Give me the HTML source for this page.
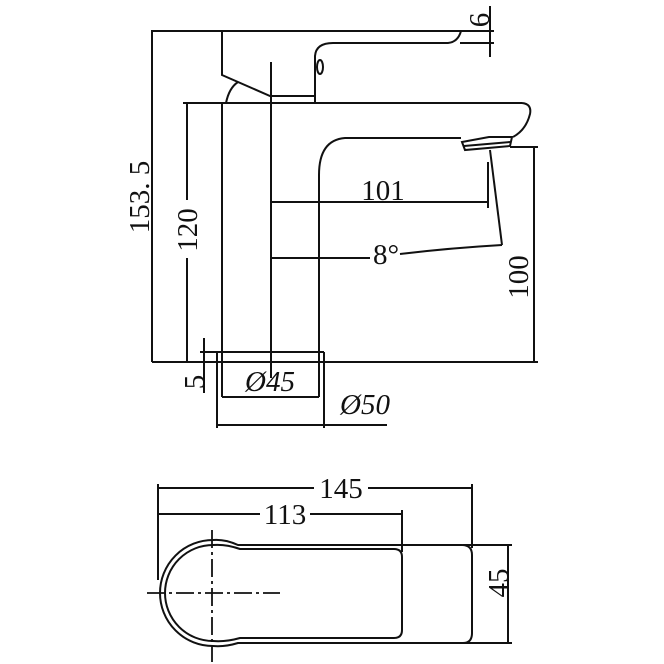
<!DOCTYPE html>
<html><head><style>
html,body{margin:0;padding:0;background:#fff;}
svg{display:block}
text{font-family:"Liberation Serif",serif;fill:#111;}
</style></head><body>
<svg width="664" height="664" viewBox="0 0 664 664" xmlns="http://www.w3.org/2000/svg">
<g fill="none" stroke="#111" stroke-width="2">
<line x1="151" y1="31" x2="494" y2="31"/>
<line x1="152" y1="31" x2="152" y2="362"/>
<path d="M222 31 L222 75 L270 96 L315 96 L315 56 Q316 43 333 43 L448 43 Q458 42 461 31"/>
<ellipse cx="320" cy="67" rx="3" ry="7"/>
<line x1="315" y1="96" x2="315" y2="103"/>
<path d="M226 103 Q229 88 238 82"/>
<line x1="490" y1="6" x2="490" y2="57"/>
<line x1="460" y1="43" x2="494" y2="43"/>
<line x1="183" y1="103" x2="522" y2="103"/>
<path d="M522 103 Q532 104 530 114 Q526 130 513 137"/>
<path d="M461 138 L345 138 Q319 140 319 175 L319 362"/>
<line x1="222" y1="103" x2="222" y2="362"/>
<path d="M462 142 L489 137 L512 137 L510 146 L465 150 Z"/>
<line x1="464" y1="146" x2="510" y2="142"/>
<line x1="271" y1="62" x2="271" y2="378"/>
<line x1="152" y1="362" x2="538" y2="362"/>
<line x1="187" y1="103" x2="187" y2="200"/>
<line x1="187" y1="258" x2="187" y2="362"/>
<line x1="271" y1="202" x2="488" y2="202"/>
<line x1="488" y1="162" x2="488" y2="208"/>
<path d="M271 258 L370 258"/>
<path d="M400 254 Q450 248 502 245"/>
<line x1="490" y1="150" x2="502" y2="245"/>
<line x1="510" y1="147" x2="538" y2="147"/>
<line x1="534" y1="147" x2="534" y2="362"/>
<line x1="200" y1="352" x2="324" y2="352"/>
<line x1="217" y1="352" x2="217" y2="428"/>
<line x1="324" y1="352" x2="324" y2="428"/>
<line x1="222" y1="362" x2="222" y2="397"/>
<line x1="319" y1="362" x2="319" y2="397"/>
<line x1="222" y1="397" x2="319" y2="397"/>
<line x1="217" y1="425" x2="387" y2="425"/>
<line x1="204" y1="338" x2="204" y2="393"/>
<line x1="200" y1="362" x2="217" y2="362"/>
<line x1="158" y1="488" x2="314" y2="488"/>
<line x1="368" y1="488" x2="472" y2="488"/>
<line x1="158" y1="514" x2="260" y2="514"/>
<line x1="310" y1="514" x2="402" y2="514"/>
<line x1="158" y1="484" x2="158" y2="580"/>
<line x1="472" y1="484" x2="472" y2="548"/>
<line x1="402" y1="510" x2="402" y2="552"/>
<path d="M238 545 Q225 539 213 540 A53 53 0 0 0 213 646 Q225 647 238 643 L463 643 Q472 643 472 633 L472 555 Q472 545 462 545 Z"/>
<path d="M240 549 Q226 544 213 545 A48 48 0 0 0 213 641 Q226 642 240 638 L394 638 Q402 638 402 630 L402 557 Q402 549 394 549 Z"/>
<line x1="463" y1="545" x2="512" y2="545"/>
<line x1="463" y1="643" x2="512" y2="643"/>
<line x1="508" y1="545" x2="508" y2="643"/>
</g>
<g stroke="#111" stroke-width="1.8" fill="none" stroke-dasharray="18,4,3,4">
<line x1="147" y1="593" x2="280" y2="593"/>
<line x1="212" y1="530" x2="212" y2="662"/>
</g>
<g font-size="29">
<text transform="translate(149,197) rotate(-90)" text-anchor="middle">153. 5</text>
<text transform="translate(197,230) rotate(-90)" text-anchor="middle">120</text>
<text x="383" y="200" text-anchor="middle">101</text>
<text x="386" y="264" text-anchor="middle">8°</text>
<text transform="translate(528,277) rotate(-90)" text-anchor="middle">100</text>
<text transform="translate(489,20) rotate(-90)" text-anchor="middle">6</text>
<text transform="translate(204,382) rotate(-90)" text-anchor="middle">5</text>
<text x="270" y="391" text-anchor="middle" font-style="italic">Ø45</text>
<text x="365" y="414" text-anchor="middle" font-style="italic">Ø50</text>
<text x="341" y="498" text-anchor="middle">145</text>
<text x="285" y="524" text-anchor="middle">113</text>
<text transform="translate(508,583) rotate(-90)" text-anchor="middle">45</text>
</g>
</svg>
</body></html>
